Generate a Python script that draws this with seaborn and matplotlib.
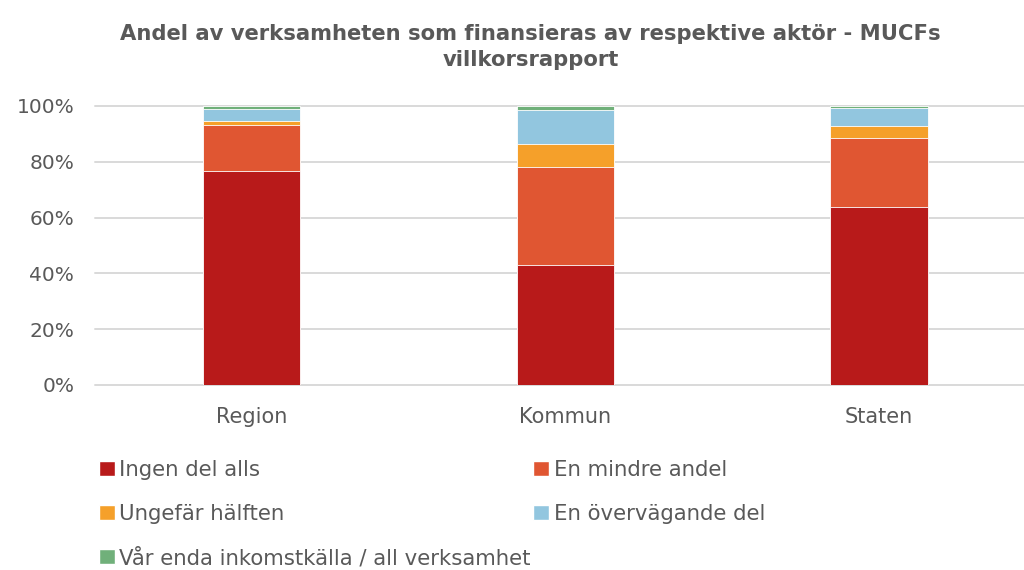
import numpy as np
import pandas as pd
import matplotlib
matplotlib.use('Agg')
import matplotlib.pyplot as plt
import seaborn as sns
from matplotlib.patches import Patch

# data (percent of each actor)
actors = ['Region', 'Kommun', 'Staten']
series = ['Ingen del alls', 'En mindre andel', 'Ungefär hälften',
          'En övervägande del', 'Vår enda inkomstkälla / all verksamhet']
ingen = [76.7, 43.0, 63.9]
mindre = [16.4, 35.1, 24.7]
halften = [1.6, 8.4, 4.2]
overvagande = [4.1, 12.2, 6.6]
enda = [1.2, 1.3, 0.6]
colors = ['#B81A1A', '#E05632', '#F5A02A', '#92C6DF', '#70B07A']

title = 'Andel av verksamheten som finansieras av respektive aktör - MUCFs\nvillkorsrapport'

df = pd.DataFrame({'Aktör': actors,
                   series[0]: ingen, series[1]: mindre, series[2]: halften,
                   series[3]: overvagande, series[4]: enda})

# cumulative sums so stacked bars can be drawn back to front
cum = df[series].cumsum(axis=1)
cum['Aktör'] = df['Aktör']

sns.set_theme(style='white')
plt.rcParams['font.family'] = ['DejaVu Sans']
txt = '#595959'

fig = plt.figure(figsize=(10.24, 5.7), dpi=100)
ax = fig.add_axes([95 / 1024, 1 - 385 / 570, 1 - 95 / 1024, (385 - 106) / 570])

for s, c in reversed(list(zip(series, colors))):
    sns.barplot(data=cum, x='Aktör', y=s, color=c, width=0.31, saturation=1,
                edgecolor='white', linewidth=0.6, ax=ax, zorder=3)

ax.set_xlim(-0.5, 2.462)
ax.set_ylim(0, 100)
ax.set_yticks([0, 20, 40, 60, 80, 100])
ax.set_yticklabels([f'{v}%' for v in [0, 20, 40, 60, 80, 100]])
ax.yaxis.grid(True, color='#D9D9D9', linewidth=1.4, zorder=0)
for gl in ax.yaxis.get_gridlines():
    gl.set_clip_on(False)
ax.set_axisbelow(True)
ax.set_xlabel('')
ax.set_ylabel('')
for sp in ax.spines.values():
    sp.set_visible(False)
ax.tick_params(axis='y', length=0, pad=15, labelsize=14.5, labelcolor=txt)
ax.tick_params(axis='x', length=0, pad=16, labelsize=15, labelcolor=txt)

fig.text(0.518, 0.958, title, ha='center', va='top', fontsize=15.2,
         fontweight='bold', color=txt, linespacing=1.4)

# legend ordered so that rows read like the reference
order = [0, 2, 4, 1, 3]
handles = [Patch(facecolor=colors[i], label=series[i]) for i in order]
leg = fig.legend(handles=handles, loc='upper left', bbox_to_anchor=(0.088, 0.208),
                 ncol=2, frameon=False, fontsize=15.3, handlelength=0.75,
                 handleheight=0.75, handletextpad=0.2, columnspacing=0.15,
                 labelspacing=1.12, borderaxespad=0)
for t in leg.get_texts():
    t.set_color(txt)

fig.savefig('out.png', dpi=100, facecolor='white')
